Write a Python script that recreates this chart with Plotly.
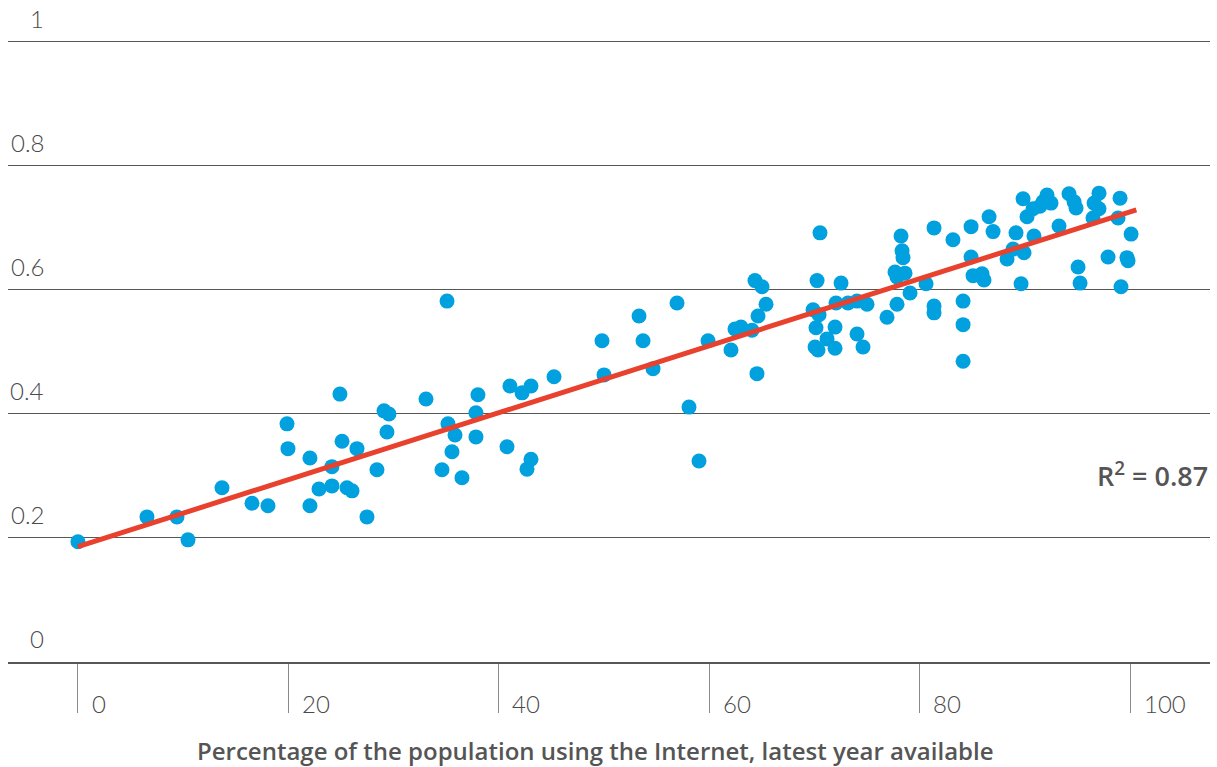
import plotly.graph_objects as go

# Internet use (% of population) vs. index value, one point per country
internet_pct = [
    0.0, 6.56, 9.41, 10.46, 13.69, 16.54, 18.06, 19.87, 19.96, 22.05,
    22.05, 22.91, 24.14, 24.14, 24.90, 25.10, 25.57, 26.05, 26.52, 27.47,
    28.42, 29.09, 29.56, 29.37, 33.08, 34.60, 35.08, 35.17, 35.55, 35.84,
    36.50, 37.83, 37.83, 38.02, 41.06, 40.78, 42.21, 42.68, 43.06, 43.06,
    45.25, 49.81, 50.00, 53.33, 53.71, 54.66, 56.94, 58.08, 59.03, 59.89,
    62.07, 62.45, 63.02, 64.07, 64.35, 65.02, 64.64, 65.40, 64.54, 70.53,
    70.25, 72.53, 69.87, 70.44, 72.05, 73.19, 74.05, 75.00, 70.15, 71.96,
    71.20, 70.06, 70.34, 71.96, 74.05, 74.62, 76.90, 77.85, 77.66, 77.85,
    78.61, 79.09, 78.23, 78.33, 78.42, 80.61, 81.37, 83.17, 81.37, 81.37,
    84.13, 84.13, 84.13, 84.89, 84.89, 85.08, 86.12, 85.93, 86.60, 86.98,
    88.31, 88.88, 89.92, 89.16, 89.64, 89.83, 90.21, 90.87, 90.78, 91.44,
    91.73, 92.11, 92.49, 93.25, 94.20, 94.68, 94.87, 95.06, 95.25, 97.05,
    96.58, 97.05, 96.48, 99.05, 98.86, 100.10, 97.91, 99.71, 99.81, 99.14,
]
index_value = [
    0.194, 0.234, 0.234, 0.197, 0.281, 0.256, 0.252, 0.384, 0.344, 0.329,
    0.252, 0.279, 0.284, 0.315, 0.432, 0.356, 0.281, 0.276, 0.344, 0.234,
    0.310, 0.405, 0.400, 0.371, 0.424, 0.310, 0.582, 0.384, 0.339, 0.366,
    0.297, 0.402, 0.363, 0.431, 0.445, 0.347, 0.434, 0.311, 0.445, 0.327,
    0.460, 0.518, 0.463, 0.558, 0.518, 0.473, 0.579, 0.411, 0.324, 0.518,
    0.503, 0.537, 0.540, 0.535, 0.615, 0.605, 0.558, 0.577, 0.465, 0.692,
    0.615, 0.611, 0.568, 0.560, 0.579, 0.579, 0.582, 0.577, 0.539, 0.540,
    0.521, 0.508, 0.503, 0.506, 0.529, 0.508, 0.556, 0.577, 0.629, 0.621,
    0.627, 0.595, 0.687, 0.663, 0.652, 0.610, 0.700, 0.681, 0.574, 0.563,
    0.582, 0.544, 0.485, 0.702, 0.653, 0.623, 0.616, 0.626, 0.718, 0.694,
    0.650, 0.666, 0.660, 0.692, 0.610, 0.747, 0.718, 0.687, 0.731, 0.735,
    0.742, 0.753, 0.740, 0.703, 0.755, 0.742, 0.732, 0.637, 0.611, 0.756,
    0.740, 0.731, 0.716, 0.748, 0.716, 0.690, 0.653, 0.652, 0.647, 0.605,
]

# Linear trend: intercept, slope, and x extent
trend_intercept = 0.186
trend_slope = 0.0054
trend_x = [0, 100.6]
r_squared = 0.87

x_ticks = [0, 20, 40, 60, 80, 100]
y_ticks = [0, 0.2, 0.4, 0.6, 0.8, 1]
y_tick_text = ["0", "0.2", "0.4", "0.6", "0.8", "1"]
x_title = "Percentage of the population using the Internet, latest year available"

DOT = "#00A1DE"
LINE = "#E8412E"
GRID = "#575757"
TEXT = "#4a4a4a"
LABEL_FONT = "Lato"
BOLD_FONT = "Open Sans"

fig = go.Figure()
fig.add_trace(go.Scatter(
    x=internet_pct, y=index_value, mode="markers",
    marker=dict(size=15, color=DOT, line=dict(width=0)),
    showlegend=False, hoverinfo="x+y",
))
fig.add_trace(go.Scatter(
    x=trend_x, y=[trend_intercept + trend_slope * v for v in trend_x],
    mode="lines", line=dict(color=LINE, width=5),
    showlegend=False, hoverinfo="skip",
))

annotations = []
# y labels sit just above their gridlines (paper y equals data y for a 0-1 range)
for v, t in zip(y_ticks, y_tick_text):
    annotations.append(dict(
        x=-3.0, y=v / 1.003 + 0.037, xref="x", yref="paper", text=t, showarrow=False,
        xanchor="right", yanchor="middle",
        font=dict(family=LABEL_FONT, size=24, color=TEXT, weight=300),
    ))
for v in x_ticks:
    annotations.append(dict(
        x=v + 1.1, y=-0.066, xref="x", yref="paper", text=str(v), showarrow=False,
        xanchor="left", yanchor="middle",
        font=dict(family=LABEL_FONT, size=24, color=TEXT, weight=300),
    ))
annotations.append(dict(
    x=0.489, y=-0.142, xref="paper", yref="paper", text=x_title, showarrow=False,
    xanchor="center", yanchor="middle",
    font=dict(family=BOLD_FONT, size=24, color="#555555", weight=600),
))
annotations.append(dict(
    x=1.0, y=0.302, xref="paper", yref="y",
    text=f"R<sup>2</sup> = {r_squared:.2f}", showarrow=False,
    xanchor="right", yanchor="middle",
    font=dict(family=BOLD_FONT, size=27, color="#555555", weight=600),
))

fig.update_layout(
    width=1217, height=767,
    margin=dict(l=8, r=7, t=40, b=105),
    paper_bgcolor="white", plot_bgcolor="white",
    annotations=annotations,
    xaxis=dict(
        range=[-6.65, 107.6], showgrid=False, zeroline=False,
        showline=True, linecolor=GRID, linewidth=2,
        tickmode="array", tickvals=x_ticks, ticks="outside",
        ticklen=49, tickwidth=1, tickcolor="#8a8a8a",
        showticklabels=False,
    ),
    yaxis=dict(
        range=[0, 1.003], tickmode="array", tickvals=y_ticks,
        showgrid=True, gridcolor=GRID, gridwidth=1,
        zeroline=False, showticklabels=False, showline=False,
    ),
)

fig.write_html("out.html")
